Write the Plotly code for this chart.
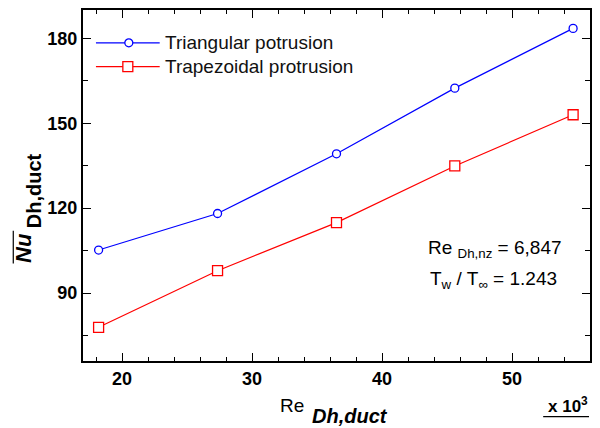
import plotly.graph_objects as go

# Reynolds number of the duct (x 10^3)
re_duct = [18.2, 27.35, 36.5, 45.6, 54.7]
# Mean Nusselt number for each protrusion shape
nu_triangular = [105.2, 118.1, 139.2, 162.4, 183.5]
nu_trapezoidal = [77.9, 97.9, 114.9, 134.9, 153.0]

series_names = ["Triangular potrusion", "Trapezoidal protrusion"]
series_colors = ["#0000ff", "#ff0000"]

x_ticks = [20, 30, 40, 50]
y_ticks = [90, 120, 150, 180]

FONT = "Liberation Sans, Arial, sans-serif"

# plot-area geometry in pixels, used to place the hand-made legend and labels
L, R, T, B = 83, 8, 8, 67
W, H = 600, 428
PW, PH = W - L - R, H - T - B


def px(x):
    return (x - L) / PW


def py(y):
    return (H - B - y) / PH


fig = go.Figure()
fig.add_trace(go.Scatter(
    x=re_duct, y=nu_triangular, name=series_names[0], mode="lines+markers",
    line=dict(color=series_colors[0], width=1.2),
    marker=dict(symbol="circle", size=8, color="white",
                line=dict(color=series_colors[0], width=1.3)),
))
fig.add_trace(go.Scatter(
    x=re_duct, y=nu_trapezoidal, name=series_names[1], mode="lines+markers",
    line=dict(color=series_colors[1], width=1.2),
    marker=dict(symbol="square", size=10, color="white",
                line=dict(color=series_colors[1], width=1.3)),
))

axis_common = dict(
    showgrid=False, zeroline=False, showline=True, linecolor="black",
    linewidth=2, mirror="ticks", ticks="inside", tickcolor="black",
    ticklen=8, tickwidth=1.2,
    tickfont=dict(family=FONT, size=18, color="black", weight="bold"),
)

fig.update_xaxes(
    range=[17, 56], tickvals=x_ticks,
    minor=dict(dtick=2, tick0=0, ticks="inside", ticklen=4, tickcolor="black", tickwidth=1.2),
    **axis_common,
)
fig.update_yaxes(
    range=[66, 190], tickvals=y_ticks,
    minor=dict(dtick=15, tick0=0, ticks="inside", ticklen=5, tickcolor="black", tickwidth=1.2),
    **axis_common,
)

annotations = [
    # x-axis title
    dict(text="Re", x=px(307), y=py(406), xref="paper", yref="paper",
         xanchor="right", yanchor="middle", showarrow=False,
         font=dict(family=FONT, size=19, color="black")),
    dict(text="<b><i>Dh,duct</i></b>", x=px(311), y=py(416), xref="paper", yref="paper",
         xanchor="left", yanchor="middle", showarrow=False,
         font=dict(family=FONT, size=20, color="black")),
    # multiplier
    dict(text="<b>x 10<sup>3</sup></b>", x=px(592), y=py(405), xref="paper", yref="paper",
         xanchor="right", yanchor="middle", showarrow=False,
         font=dict(family=FONT, size=17, color="black")),
    # y-axis title
    dict(text="<b><i>Nu</i></b>", x=px(23), y=py(247), xref="paper", yref="paper",
         xanchor="center", yanchor="middle", textangle=-90, showarrow=False,
         font=dict(family=FONT, size=22, color="black")),
    dict(text="<b>Dh,duct</b>", x=px(34), y=py(190), xref="paper", yref="paper",
         xanchor="center", yanchor="middle", textangle=-90, showarrow=False,
         font=dict(family=FONT, size=20, color="black")),
    # flow conditions
    dict(text="Re <sub>Dh,nz</sub> = 6,847", x=px(427), y=py(248), xref="paper", yref="paper",
         xanchor="left", yanchor="middle", showarrow=False,
         font=dict(family=FONT, size=19, color="black")),
    dict(text="T<sub>w</sub> / T<sub>\u221e</sub> = 1.243", x=px(429), y=py(280), xref="paper", yref="paper",
         xanchor="left", yanchor="middle", showarrow=False,
         font=dict(family=FONT, size=19, color="black")),
]

shapes = [
    # overbar on Nu
    dict(type="line", xref="paper", yref="paper", x0=px(13), x1=px(13), y0=py(230), y1=py(263),
         line=dict(color="black", width=1.2)),
    # underline on the multiplier
    dict(type="line", xref="paper", yref="paper", x0=px(545), x1=px(591), y0=py(417), y1=py(417),
         line=dict(color="black", width=1.2)),
]

# legend: sample line, symbol and label for each series
legend_rows = [41, 65]
for i, (name, color, row) in enumerate(zip(series_names, series_colors, legend_rows)):
    shapes.append(dict(type="line", xref="paper", yref="paper",
                       x0=px(96), x1=px(160), y0=py(row), y1=py(row),
                       line=dict(color=color, width=1.2)))
    if i == 0:
        shapes.append(dict(type="circle", xref="paper", yref="paper",
                           x0=px(125), x1=px(133), y0=py(row - 4), y1=py(row + 4),
                           fillcolor="white", line=dict(color=color, width=1.3)))
    else:
        shapes.append(dict(type="rect", xref="paper", yref="paper",
                           x0=px(123), x1=px(133), y0=py(row - 5), y1=py(row + 5),
                           fillcolor="white", line=dict(color=color, width=1.3)))
    annotations.append(dict(text=name, x=px(163), y=py(row), xref="paper", yref="paper",
                            xanchor="left", yanchor="middle", showarrow=False,
                            font=dict(family=FONT, size=19, color="#111111")))

fig.update_layout(
    width=W, height=H,
    margin=dict(l=L, r=R, t=T, b=B),
    paper_bgcolor="white", plot_bgcolor="white",
    showlegend=False,
    annotations=annotations,
    shapes=shapes,
)

fig.write_html("out.html")
